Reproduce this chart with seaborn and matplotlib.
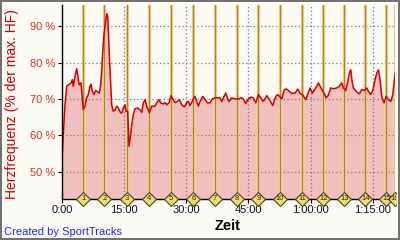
import numpy as np
import pandas as pd
import matplotlib
matplotlib.use("Agg")
import matplotlib.pyplot as plt
from matplotlib.path import Path
from matplotlib.patches import Rectangle
from matplotlib.transforms import Bbox
import seaborn as sns

# ---------------- data ----------------
time_min = [0.0, 0.07, 0.31, 0.72, 1.14, 1.69, 2.17, 2.49, 2.73, 3.14, 3.55, 3.79, 4.11, 4.59, 4.76,
            5.14, 5.55, 5.97, 6.35, 6.76, 7.00, 7.32, 7.73, 8.14, 8.62, 9.01, 9.35, 9.59, 9.83,
            10.14, 10.55, 10.80, 11.04, 11.18, 11.42, 11.76, 12.00, 12.39, 12.80, 13.21, 13.60,
            14.01, 14.42, 14.80, 15.21, 15.46, 15.87, 16.18, 16.49, 16.83, 17.22, 17.63, 18.28,
            18.84, 19.25, 19.63, 20.05, 20.46, 21.08, 21.66, 22.46, 22.87, 23.43, 23.84, 24.46,
            24.87, 25.29, 25.84, 26.32, 26.73, 27.29, 27.84, 28.33, 28.91, 29.54, 30.11, 30.50,
            30.91, 31.32, 31.71, 32.12, 32.53, 32.92, 33.33, 33.98, 34.53, 35.19, 35.74, 36.30,
            36.95, 37.51, 38.16, 38.57, 38.95, 39.53, 40.02, 40.33, 40.98, 41.78, 42.58, 43.23,
            43.78, 44.36, 44.99, 45.64, 46.20, 46.78, 47.41, 47.99, 48.61, 49.44, 49.99, 50.88,
            51.61, 52.09, 52.48, 53.06, 53.69, 54.27, 54.89, 55.47, 56.27, 56.92, 57.48, 58.03,
            58.85, 59.48, 59.89, 60.45, 60.86, 61.51, 61.90, 62.31, 62.72, 63.27, 63.76, 64.31,
            64.89, 65.52, 66.34, 66.97, 67.55, 67.94, 68.51, 69.00, 69.38, 69.72, 70.04, 70.35,
            71.17, 71.80, 72.38, 73.01, 73.59, 73.97, 74.55, 75.03, 75.59, 76.00, 76.39, 76.80,
            77.21, 77.76, 78.25, 78.80, 79.38, 79.87, 80.18, 80.42]
hr_pct = [40.0, 55.0, 60.2, 68.4, 73.5, 74.0, 74.4, 75.3, 73.5, 76.2, 78.3, 76.7, 73.9, 74.4, 72.1,
          67.1, 68.0, 70.3, 71.2, 73.5, 74.0, 72.1, 71.2, 72.3, 71.9, 71.6, 74.0, 78.0, 83.0,
          87.7, 91.3, 93.4, 92.7, 88.6, 82.2, 73.9, 68.4, 66.6, 67.0, 68.0, 67.5,
          66.4, 66.1, 67.5, 68.4, 66.6, 66.6, 57.0, 59.3, 63.0, 65.7, 67.3, 67.5,
          67.0, 66.3, 68.9, 69.8, 68.0, 66.2, 68.0, 68.0, 68.9, 69.8, 68.9, 68.6,
          69.0, 68.4, 68.9, 70.9, 70.0, 69.0, 69.3, 69.8, 68.4, 67.8, 69.0, 69.3,
          68.2, 69.0, 70.0, 70.7, 69.3, 68.0, 69.3, 70.7, 69.8, 68.9, 68.9, 70.0,
          70.3, 70.3, 70.3, 69.3, 70.3, 71.6, 70.0, 69.3, 70.3, 70.0, 70.0, 70.3,
          70.0, 68.7, 70.0, 70.5, 70.3, 68.9, 71.2, 70.3, 69.3, 70.9, 70.0, 68.2,
          70.7, 71.2, 70.7, 70.0, 72.6, 72.7, 72.1, 71.5, 71.6, 72.7, 71.5, 71.2,
          69.8, 71.8, 73.0, 71.6, 72.3, 73.5, 74.4, 73.5, 72.6, 71.6, 70.3, 71.0,
          73.0, 72.8, 73.0, 73.5, 74.4, 73.0, 72.3, 74.8, 77.1, 78.0, 74.8, 73.0,
          71.9, 71.4, 72.6, 72.3, 73.0, 72.1, 71.2, 72.3, 75.3, 77.1, 78.0, 75.3,
          70.7, 68.9, 70.7, 69.8, 69.3, 71.2, 74.4, 77.1]

lap_numbers = [str(i) for i in range(1, 17)]
lap_times = [5.14, 10.22, 15.58, 21.01, 26.33, 31.71, 36.95, 42.27, 47.41, 52.65,
             57.97, 63.11, 68.18, 73.25, 78.32, 80.30]

x_ticks = [0, 15, 30, 45, 60, 75]
x_tick_labels = ["0:00", "15:00", "30:00", "45:00", "1:00:00", "1:15:00"]
y_ticks = [50, 60, 70, 80, 90]
y_tick_labels = ["50 %", "60 %", "70 %", "80 %", "90 %"]

# ---------------- style ----------------
BG = "#FBFAF5"
sns.set_style("ticks")
plt.rcParams["font.family"] = ["Liberation Sans", "DejaVu Sans"]

fig = plt.figure(figsize=(4.0, 2.4), dpi=100, facecolor=BG)
ax = fig.add_axes([62 / 400, 1 - 199 / 240, (395 - 62) / 400, (199 - 5) / 240])
ax.set_facecolor(BG)

hr = pd.DataFrame({"t": time_min, "hr": hr_pct})
laps = pd.DataFrame({"t": lap_times, "lap": lap_numbers})

# fill below heart rate curve
ax.fill_between(hr["t"], hr["hr"], 0, color="#F0C0BE", linewidth=0, zorder=1)

# grid
for xv in x_ticks:
    ax.axvline(xv, color="#7A7A7A", lw=0.9, ls=(0, (1, 2)), zorder=2)
for yv in y_ticks:
    ax.axhline(yv, color="#7A7A7A", lw=0.9, ls=(0, (1, 2)), zorder=2)

# lap lines
for t in laps["t"]:
    ax.axvline(t, color="#F0D38A", lw=2.4, zorder=3)
    ax.axvline(t, color="#A8862F", lw=0.9, zorder=3.1)

# heart rate line
sns.lineplot(data=hr, x="t", y="hr", ax=ax, color="#D40000", lw=1.1,
             estimator=None, sort=False, zorder=4)

# lap diamonds
diamond = Path([(0, 1), (1, 0), (0, -1), (-1, 0), (0, 1)],
               [Path.MOVETO, Path.LINETO, Path.LINETO, Path.LINETO, Path.CLOSEPOLY])
laps["y"] = 42.5
n_before = len(ax.collections)
sns.scatterplot(data=laps, x="t", y="y", ax=ax, marker=diamond, s=100,
                color="#F2D978", edgecolor="#4A4520", linewidth=0.8,
                zorder=6, legend=False)
clip_bb = Bbox([[0, 0], [396, 240]])
for coll in ax.collections[n_before:]:
    coll.set_clip_on(True)
    coll.set_clip_box(clip_bb)
    coll.set_clip_path(None)
for t, lab in zip(laps["t"], laps["lap"]):
    txt = ax.text(t, 42.5, lab, ha="center", va="center", fontsize=5.5,
                  color="#2A2400", zorder=7)
    txt.set_clip_on(True)
    txt.set_clip_box(clip_bb)

ax.set_xlim(0, 80.4)
ax.set_ylim(42.5, 95.8)
ax.set_xticks(x_ticks)
ax.set_xticklabels(x_tick_labels)
ax.set_yticks(y_ticks)
ax.set_yticklabels(y_tick_labels)
ax.tick_params(axis="x", direction="out", length=3, width=0.8, pad=1.5,
               labelsize=8, labelcolor="#101030", color="black")
ax.tick_params(axis="y", direction="out", length=3, width=0.8, pad=2,
               labelsize=8, labelcolor="#E0301E", color="black")
for side in ["top", "right"]:
    ax.spines[side].set_visible(False)
for side in ["left", "bottom"]:
    ax.spines[side].set_color("black")
    ax.spines[side].set_linewidth(1.0)
    ax.spines[side].set_zorder(5)
ax.set_xlabel("")
ax.set_ylabel("")

fig.text(12 / 400, 1 - 104 / 240, "Herzfrequenz (% der max. HF)", rotation=90,
         ha="center", va="center", fontsize=10, color="#CC0000")
fig.text(228 / 400, 1 - 226 / 240, "Zeit", ha="center", va="center",
         fontsize=10.5, fontweight="bold", color="black")
fig.text(4 / 400, 1 - 232 / 240, "Created by SportTracks", ha="left", va="center",
         fontsize=8, color="#2828E8")

# frame border
fig.patches.append(Rectangle((0.0015, 0.0025), 0.996, 0.993, transform=fig.transFigure,
                             fill=False, edgecolor="#6E6E6E", lw=1.4))

fig.savefig("out.png", dpi=100, facecolor=BG)
